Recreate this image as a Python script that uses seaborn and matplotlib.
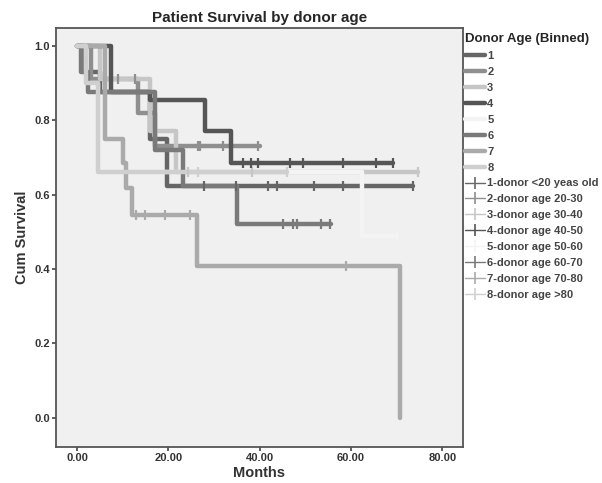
import numpy as np
import pandas as pd
import seaborn as sns
import matplotlib.pyplot as plt
from matplotlib.lines import Line2D

# group labels / colours
groups = ["1", "2", "3", "4", "5", "6", "7", "8"]
group_labels = ["1-donor <20 yeas old", "2-donor age 20-30", "3-donor age 30-40",
                "4-donor age 40-50", "5-donor age 50-60", "6-donor age 60-70",
                "7-donor age 70-80", "8-donor age >80"]
group_colors = ["#666666", "#8f8f8f", "#c6c6c6", "#555555",
                "#f4f4f4", "#7a7a7a", "#aaaaaa", "#cfcfcf"]

# event times (months) and survival right after each event, per group
event_times = {
    "1": [1.5, 5.0, 16.0, 19.6],
    "2": [3.0, 13.3, 17.0],
    "3": [5.0, 16.0, 21.6],
    "4": [7.4, 16.0, 28.0, 33.8],
    "5": [2.0, 4.6, 62.4],
    "6": [0.8, 2.5, 17.0, 23.2, 35.0],
    "7": [6.1, 10.1, 10.8, 12.0, 26.2, 70.7],
    "8": [2.0, 4.6],
}
event_surv = {
    "1": [0.93, 0.875, 0.75, 0.624],
    "2": [0.91, 0.82, 0.73],
    "3": [0.91, 0.77, 0.66],
    "4": [0.875, 0.855, 0.77, 0.685],
    "5": [0.9, 0.66, 0.49],
    "6": [0.93, 0.875, 0.72, 0.624, 0.52],
    "7": [0.75, 0.685, 0.618, 0.546, 0.407, 0.0],
    "8": [0.9, 0.66],
}
# censored observations (months)
censor_times = {
    "1": [27.8, 34.8, 41.8, 43.8, 51.9, 58.2, 73.5],
    "2": [9.0, 12.7, 26.5, 27.0, 32.0, 39.6],
    "3": [24.3, 38.3, 74.7],
    "4": [36.3, 38.0, 39.6, 46.6, 49.4, 58.2, 65.5, 69.1],
    "5": [70.0],
    "6": [45.0, 47.3, 48.1, 53.4, 55.4],
    "7": [13.0, 14.9, 19.3, 24.7, 59.0],
    "8": [26.5, 46.0],
}
end_times = {"1": 73.5, "2": 40.0, "3": 74.7, "4": 69.1, "5": 70.0,
             "6": 55.7, "7": 70.7, "8": 46.0}

curve_rows = []
cens_rows = []
for g in groups:
    xs = [0.0] + event_times[g] + [end_times[g]]
    ys = [1.0] + event_surv[g] + [event_surv[g][-1]]
    for x, y in zip(xs, ys):
        curve_rows.append({"Months": x, "Cum Survival": y, "group": g})
    for t in censor_times[g]:
        idx = np.searchsorted(event_times[g], t, side="right")
        s = 1.0 if idx == 0 else event_surv[g][idx - 1]
        cens_rows.append({"Months": t, "Cum Survival": s, "group": g})
curves = pd.DataFrame(curve_rows)
cens = pd.DataFrame(cens_rows)

sns.set_style("white")
plt.rcParams['font.family'] = ['Liberation Sans', 'DejaVu Sans']

fig = plt.figure(figsize=(6.02, 4.83), dpi=100)
ax = fig.add_axes([0.093, 0.075, 0.676, 0.867])
ax.set_facecolor("#f0f0f1")

palette = dict(zip(groups, group_colors))
for g in groups:
    sub = curves[curves["group"] == g]
    sns.lineplot(data=sub, x="Months", y="Cum Survival", ax=ax, color=palette[g],
                 drawstyle="steps-post", estimator=None, sort=False, lw=3.2,
                 legend=False)
    csub = cens[cens["group"] == g]
    sns.scatterplot(data=csub, x="Months", y="Cum Survival", ax=ax, color=palette[g],
                    marker="|", s=45, linewidth=1.6, legend=False, zorder=3)

ax.set_xlim(-4.6, 84.5)
ax.set_ylim(-0.078, 1.048)
ax.set_xticks([0, 20, 40, 60, 80])
ax.set_xticklabels(["%.2f" % v for v in [0, 20, 40, 60, 80]], fontsize=8, fontweight="bold",
                   color="#333333")
ax.set_yticks([0, 0.2, 0.4, 0.6, 0.8, 1.0])
ax.set_yticklabels(["%.1f" % v for v in [0, 0.2, 0.4, 0.6, 0.8, 1.0]], fontsize=8, fontweight="bold",
                   color="#333333")
ax.tick_params(direction="out", length=3, width=1.2, color="#444444", bottom=True, left=True, pad=1.5)
for sp in ax.spines.values():
    sp.set_color("#555555")
    sp.set_linewidth(1.3)
ax.set_xlabel("Months", fontsize=10.5, fontweight="bold", color="#333333", labelpad=2)
ax.set_ylabel("Cum Survival", fontsize=10.5, fontweight="bold", color="#333333", labelpad=4)
ax.set_title("Patient Survival by donor age", fontsize=11, fontweight="bold", pad=4)

handles = [Line2D([], [], color=c, lw=3.2) for c in group_colors]
handles += [Line2D([], [], color=c, lw=1, marker="|", markersize=8, mew=1.2) for c in group_colors]
labels = groups + group_labels
leg = fig.legend(handles, labels, title="Donor Age (Binned)", loc="upper left",
                 bbox_to_anchor=(0.765, 0.94), frameon=False, fontsize=8,
                 title_fontsize=9.5, labelspacing=0.53, handlelength=1.8,
                 handletextpad=0.2, borderaxespad=0)
leg.get_title().set_fontweight("bold")
leg._legend_box.align = "left"
for t in leg.get_texts():
    t.set_fontweight("bold")
    t.set_color("#444444")

fig.savefig("out.png", dpi=100)
